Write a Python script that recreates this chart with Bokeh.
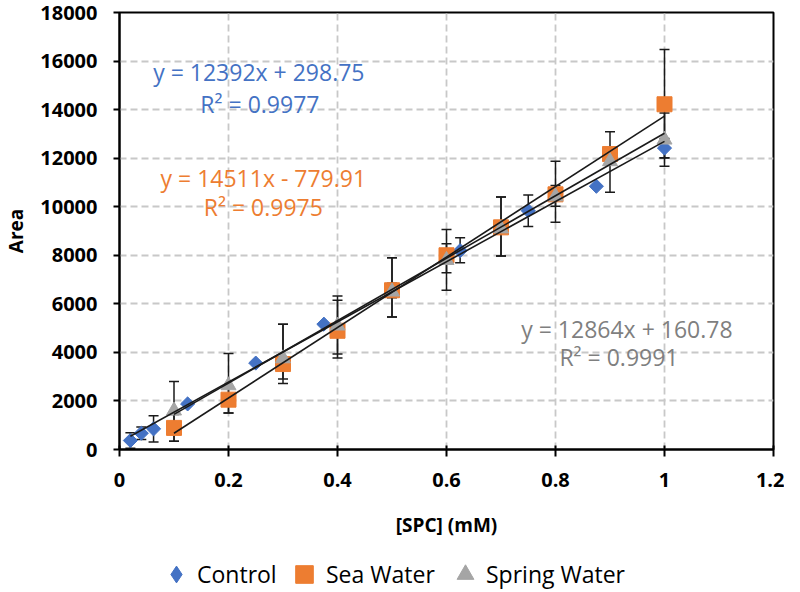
import numpy as np
from bokeh.plotting import figure
from bokeh.layouts import column
from bokeh.models import Range1d, FixedTicker, Label, Legend, LegendItem
from bokeh.embed import file_html
from bokeh.resources import INLINE

# ---------------- data ----------------
x_ticks = [0, 0.2, 0.4, 0.6, 0.8, 1.0, 1.2]
x_tick_labels = ["0", "0.2", "0.4", "0.6", "0.8", "1", "1.2"]
y_ticks = [0, 2000, 4000, 6000, 8000, 10000, 12000, 14000, 16000, 18000]
y_tick_labels = ["0", "2000", "4000", "6000", "8000", "10000", "12000", "14000", "16000", "18000"]

series_names = ["Control", "Sea Water", "Spring Water"]

control_x = [0.02, 0.04, 0.0625, 0.125, 0.25, 0.375, 0.5, 0.625, 0.75, 0.875, 1.0]
control_y = [370, 670, 850, 1877, 3560, 5162, 6550, 8190, 9835, 10842, 12415]
control_err_hi = [320, 260, 540, 0, 0, 0, 300, 528, 650, 0, 400]
control_err_lo = [320, 260, 540, 0, 0, 0, 300, 499, 650, 0, 400]

sea_x = [0.1, 0.2, 0.3, 0.4, 0.5, 0.6, 0.7, 0.8, 0.9, 1.0]
sea_y = [890, 2053, 3520, 4890, 6560, 8000, 9150, 10510, 12170, 14220]
sea_err_hi = [550, 550, 1640, 1256, 1337, 1063, 1250, 1358, 250, 2260]
sea_err_lo = [550, 546, 800, 1124, 1098, 1441, 1183, 1147, 250, 2215]

spring_x = [0.1, 0.2, 0.3, 0.4, 0.5, 0.6, 0.7, 0.8, 0.9, 1.0]
spring_y = [1600, 2640, 3750, 5100, 6500, 7800, 9100, 10420, 11868, 12760]
spring_err_hi = [1205, 1315, 1410, 1224, 1400, 672, 1300, 450, 1220, 1100]
spring_err_lo = [1260, 1133, 847, 1170, 1038, 518, 1133, 400, 1273, 1097]

fit_slopes = [12392, 14511, 12864]
fit_intercepts = [298.75, -779.91, 160.78]
fit_r2 = [0.9977, 0.9975, 0.9991]

# ---------------- style ----------------
FONT = "Open Sans"
colors = ["#4472C4", "#ED7D31", "#A5A5A5"]
text_colors = ["#4472C4", "#ED7D31", "#7F7F7F"]
INK = "#1a1a1a"

p = figure(width=784, height=552, output_backend="svg", toolbar_location=None,
           x_range=Range1d(0, 1.2), y_range=Range1d(0, 18000),
           min_border_left=109, min_border_right=11, min_border_top=12, min_border_bottom=103)

p.background_fill_color = "white"
p.border_fill_color = "white"
p.outline_line_color = "black"
p.outline_line_width = 2

for g in (p.xgrid[0], p.ygrid[0]):
    g.grid_line_color = "#c8c8c8"
    g.grid_line_width = 1.8
    g.grid_line_dash = "7 4"

p.xaxis.ticker = FixedTicker(ticks=x_ticks)
p.yaxis.ticker = FixedTicker(ticks=y_ticks)
p.xaxis.major_label_overrides = {t: l for t, l in zip(x_ticks, x_tick_labels)}
p.yaxis.major_label_overrides = {t: l for t, l in zip(y_ticks, y_tick_labels)}

for ax in (p.xaxis[0], p.yaxis[0]):
    ax.axis_line_color = "black"
    ax.axis_line_width = 2
    ax.major_tick_line_color = "black"
    ax.major_tick_line_width = 2
    ax.minor_tick_line_color = None
    ax.major_label_text_font = FONT
    ax.major_label_text_font_style = "bold"
    ax.major_label_text_font_size = "20px"
    ax.major_label_text_color = "black"
    ax.axis_label_text_font = FONT
    ax.axis_label_text_font_style = "bold"
    ax.axis_label_text_font_size = "19px"
    ax.axis_label_text_color = "black"

p.xaxis.axis_label = "[SPC] (mM)"
p.yaxis.axis_label = "Area"
p.xaxis.major_tick_in = 4
p.xaxis.major_tick_out = 7
p.yaxis.major_tick_in = 0
p.yaxis.major_tick_out = 6
p.xaxis.major_label_standoff = 16
p.xaxis.axis_label_standoff = 22
p.yaxis.major_label_standoff = 16
p.yaxis.major_label_orientation = "horizontal"
p.yaxis.axis_label_standoff = 8

all_x = [control_x, sea_x, spring_x]
all_y = [control_y, sea_y, spring_y]
all_hi = [control_err_hi, sea_err_hi, spring_err_hi]
all_lo = [control_err_lo, sea_err_lo, spring_err_lo]

# error bars (behind markers)
for xs, ys, hi, lo in zip(all_x, all_y, all_hi, all_lo):
    xs_a = np.array(xs, dtype=float)
    ys_a = np.array(ys, dtype=float)
    top = ys_a + np.array(hi, dtype=float)
    bot = ys_a - np.array(lo, dtype=float)
    p.segment(x0=xs_a, y0=bot, x1=xs_a, y1=top, line_color=INK, line_width=1.5)
    p.scatter(x=np.concatenate([xs_a, xs_a]), y=np.concatenate([top, bot]),
              marker="dash", size=10, line_color=INK, line_width=1.5)

# markers
marker_specs = [dict(marker="square", angle=np.pi / 4, size=10),
                dict(marker="square", size=15),
                dict(marker="triangle", size=15)]
for xs, ys, spec, c in zip(all_x, all_y, marker_specs, colors):
    p.scatter(xs, ys, fill_color=c, line_color=c, **spec)

# trend lines
for xs, m, b in zip(all_x, fit_slopes, fit_intercepts):
    xf = np.array([min(xs), max(xs)])
    p.line(xf, m * xf + b, line_color=INK, line_width=1.6)

# equation labels
def eq_text(m, b):
    sign = "+" if b >= 0 else "-"
    return f"y = {m}x {sign} {abs(b):g}"

label_pos = [((0.2557, 15546), (0.2576, 14230)),
             ((0.2639, 11190), (0.2639, 9998)),
             ((0.931, 4963), (0.9164, 3812))]
for (l1, l2), m, b, r2, c in zip(label_pos, fit_slopes, fit_intercepts, fit_r2, text_colors):
    p.add_layout(Label(x=l1[0], y=l1[1], text=eq_text(m, b), text_align="center",
                       text_baseline="middle", text_font=FONT, text_font_size="23px",
                       text_color=c))
    p.add_layout(Label(x=l2[0], y=l2[1], text=f"R² = {r2}", text_align="center",
                       text_baseline="middle", text_font=FONT, text_font_size="23px",
                       text_color=c))

# ---------------- legend strip ----------------
pl = figure(width=784, height=40, output_backend="svg", toolbar_location=None,
            x_range=Range1d(0, 1), y_range=Range1d(0, 1),
            min_border_left=0, min_border_right=0, min_border_top=0, min_border_bottom=0)
pl.axis.visible = False
pl.xgrid.visible = False
pl.ygrid.visible = False
pl.outline_line_color = None
pl.background_fill_color = "white"
pl.border_fill_color = "white"

# one legend per series (each with its own glyph box so marker sizes match)
legend_markers = ["diamond", "square", "triangle"]
leg_boxes = [42, 44, 42]
leg_left = [36, 163, 325]
leg_standoff = [-8, -7, -6]
for name, xs, ys, mk, c, box, lx, so in zip(series_names, all_x, all_y, legend_markers,
                                            colors, leg_boxes, leg_left, leg_standoff):
    # proxy renderer: first point of the series, outside this strip's visible range
    r = pl.scatter(x=[xs[0]], y=[ys[0]], marker=mk, size=15, fill_color=c, line_color=c)
    leg = Legend(items=[LegendItem(label=name, renderers=[r])],
                 orientation="horizontal", location=(lx, 18 - box // 2),
                 glyph_width=box, glyph_height=box, label_standoff=so, spacing=0,
                 padding=0, margin=0, border_line_color=None, background_fill_alpha=0,
                 label_text_font=FONT, label_text_font_size="23px", label_text_color="black",
                 label_text_baseline="middle")
    pl.add_layout(leg, "center")

layout = column(p, pl, spacing=0)
open("out.html", "w").write(file_html(layout, INLINE))
